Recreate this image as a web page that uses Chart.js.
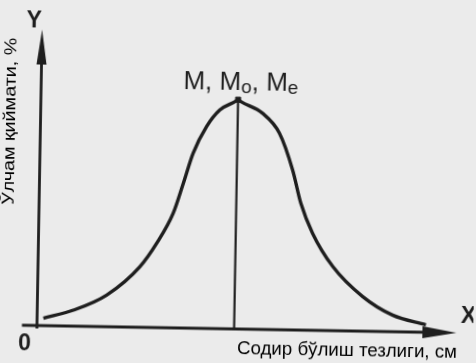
<!DOCTYPE html>
<html>
<head>
<meta charset="utf-8">
<script src="https://cdn.jsdelivr.net/npm/chart.js@4.4.1/dist/chart.umd.min.js"></script>
<style>
  html, body { margin: 0; padding: 0; background: #ebebeb; overflow: hidden; }
  #wrap { width: 476px; height: 363px; transform: rotate(1deg); }
</style>
</head>
<body>
<div id="wrap"><canvas id="curve" width="476" height="363"></canvas></div>
<script>
// normal distribution curve: x — occurrence rate, y — size value (%)
const curveX = [1.5, 8.6, 16.5, 24.3, 28.2, 32.0, 34.3, 36.5, 39.6, 42.7, 46.3, 47.0, 47.7, 52.9, 57.0, 60.3, 62.4, 65.3, 70.3, 77.5, 84.7, 92.7];
const curveY = [2.5, 5.4, 10.7, 20.5, 28.5, 38.7, 48.9, 59.1, 68.2, 73.9, 76.8, 77.5, 76.8, 73.0, 66.4, 54.0, 42.8, 32.8, 21.6, 11.7, 5.6, 2.5];

// peak: mean, mode and median coincide
const peakX = 47.0;
const peakY = 77.5;

const axisMax = 100;
const axisNameX = 'X';
const axisNameY = 'Y';
const originLabel = '0';
const titleX = 'Содир бўлиш тезлиги, см';
const titleY = 'Ўлчам қиймати, %';
// M, Mo, Me — [text, subscript?]
const peakLabel = [['M', false], [', ', false], ['M', false], ['o', true], [', ', false], ['M', false], ['e', true]];

const ink = '#1e1e1e';
const font = '"Liberation Sans", Arial, sans-serif';

// draw text squeezed/stretched to a given width
function fitText(ctx, text, cx, cy, width, size, angle) {
  ctx.save();
  ctx.font = size + 'px ' + font;
  ctx.textAlign = 'center';
  ctx.textBaseline = 'middle';
  const k = width / ctx.measureText(text).width;
  ctx.translate(cx, cy);
  ctx.rotate(angle);
  ctx.scale(k, 1);
  ctx.fillText(text, 0, 0);
  ctx.restore();
}

const axesPlugin = {
  id: 'axes',
  beforeDatasetsDraw(chart) {
    const { ctx, scales: { x, y } } = chart;
    const x0 = x.getPixelForValue(0), y0 = y.getPixelForValue(0);
    const xEnd = x.getPixelForValue(axisMax), yEnd = y.getPixelForValue(axisMax);
    ctx.save();
    ctx.strokeStyle = ink;
    ctx.fillStyle = ink;
    ctx.lineWidth = 2.8;
    // Y axis with arrow
    ctx.beginPath();
    ctx.moveTo(x0, y0 + 3);
    ctx.lineTo(x0, yEnd + 20);
    ctx.stroke();
    ctx.beginPath();
    ctx.moveTo(x0, yEnd);
    ctx.lineTo(x0 - 5, yEnd + 35);
    ctx.lineTo(x0 + 5, yEnd + 35);
    ctx.closePath();
    ctx.fill();
    // X axis with arrow
    ctx.beginPath();
    ctx.moveTo(x0 - 15, y0);
    ctx.lineTo(xEnd - 20, y0);
    ctx.stroke();
    ctx.beginPath();
    ctx.moveTo(xEnd, y0);
    ctx.lineTo(xEnd - 34, y0 - 6);
    ctx.lineTo(xEnd - 34, y0 + 6);
    ctx.closePath();
    ctx.fill();
    ctx.restore();
  },
  afterDraw(chart) {
    const { ctx, scales: { x, y } } = chart;
    const x0 = x.getPixelForValue(0), y0 = y.getPixelForValue(0);
    const xEnd = x.getPixelForValue(axisMax), yEnd = y.getPixelForValue(axisMax);
    ctx.save();
    ctx.fillStyle = ink;
    ctx.textAlign = 'center';
    ctx.textBaseline = 'middle';
    ctx.font = 'bold 23px ' + font;
    ctx.fillText(axisNameY, x0 - 8, yEnd - 8);
    ctx.fillText(axisNameX, xEnd + 12, y0 - 16);
    ctx.fillText(originLabel, x0 - 12, y0 + 19);

    // M, Mo, Me above the peak
    const px = x.getPixelForValue(peakX), py = y.getPixelForValue(peakY);
    let cx = px - 55;
    const base = py - 10;
    ctx.textAlign = 'left';
    ctx.textBaseline = 'alphabetic';
    peakLabel.forEach(([t, sub]) => {
      ctx.font = (sub ? 19 : 26) + 'px ' + font;
      ctx.fillText(t, cx, base + (sub ? 3 : 0));
      cx += ctx.measureText(t).width;
    });
    ctx.restore();

    fitText(ctx, titleX, x.getPixelForValue(74), y0 + 20, 220, 18, 0);
    fitText(ctx, titleY, x0 - 30.5, y.getPixelForValue(68.8), 167, 17, -Math.PI / 2);
  }
};

new Chart(document.getElementById('curve'), {
  type: 'line',
  data: {
    datasets: [
      {
        data: curveX.map((v, i) => ({ x: v, y: curveY[i] })),
        borderColor: ink,
        borderWidth: 3.4,
        pointRadius: 0,
        cubicInterpolationMode: 'monotone',
        fill: false
      },
      {
        data: [{ x: peakX, y: peakY }],
        pointStyle: 'rect',
        pointRadius: 3.5,
        pointBackgroundColor: ink,
        pointBorderColor: ink,
        showLine: false
      },
      {
        data: [{ x: peakX, y: 0 }, { x: peakX, y: peakY }],
        borderColor: ink,
        borderWidth: 2.2,
        pointRadius: 0
      }
    ]
  },
  options: {
    responsive: false,
    animation: false,
    layout: { padding: { left: 39.5, right: 17, top: 33, bottom: 34 } },
    plugins: { legend: { display: false }, tooltip: { enabled: false } },
    scales: {
      x: { type: 'linear', min: 0, max: axisMax, display: false },
      y: { type: 'linear', min: 0, max: axisMax, display: false }
    }
  },
  plugins: [axesPlugin]
});
</script>
</body>
</html>
